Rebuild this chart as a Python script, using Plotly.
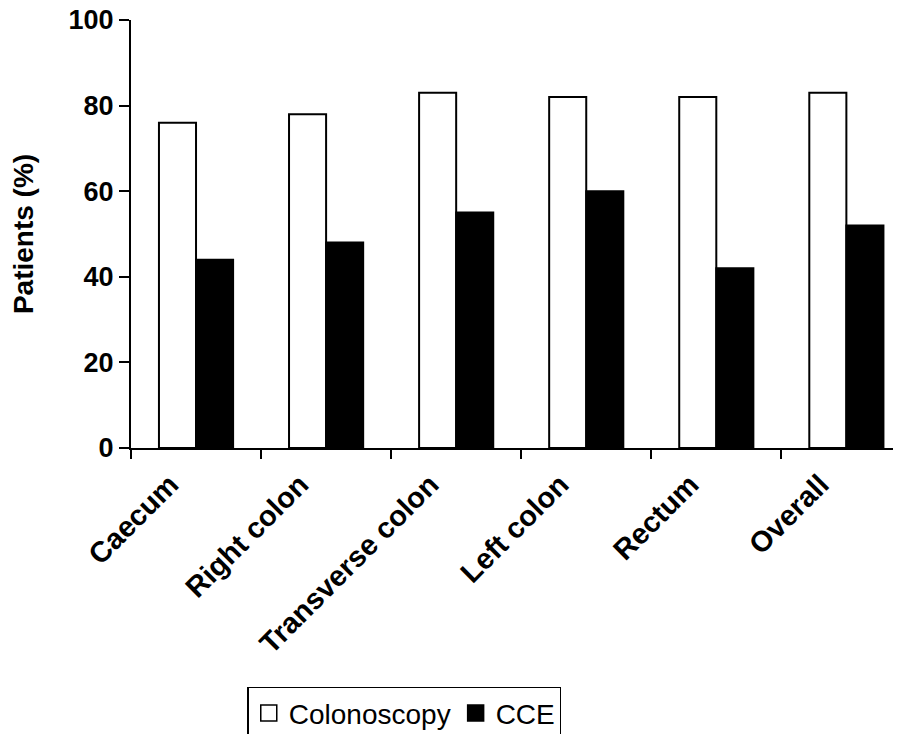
import plotly.graph_objects as go

categories = ["Caecum", "Right colon", "Transverse colon", "Left colon", "Rectum", "Overall"]
colonoscopy = [76, 78, 83, 82, 82, 83]
cce = [44, 48, 55, 60, 42, 52]
y_ticks = [0, 20, 40, 60, 80, 100]

FONT = "Liberation Sans, Arial, Helvetica, sans-serif"

fig = go.Figure()
fig.add_trace(go.Bar(
    x=categories, y=colonoscopy, name="Colonoscopy", showlegend=False,
    marker=dict(color="white", line=dict(color="black", width=2)),
))
fig.add_trace(go.Bar(
    x=categories, y=cce, name="CCE", showlegend=False,
    marker=dict(color="black", line=dict(color="black", width=2)),
))
# legend-only entries (larger square symbols)
fig.add_trace(go.Scatter(
    x=[None], y=[None], mode="markers", name="Colonoscopy",
    marker=dict(symbol="square", size=16, color="white", line=dict(color="black", width=1.5)),
))
fig.add_trace(go.Scatter(
    x=[None], y=[None], mode="markers", name="CCE",
    marker=dict(symbol="square", size=16, color="black", line=dict(color="black", width=1.5)),
))

fig.update_layout(
    width=901, height=734,
    paper_bgcolor="white", plot_bgcolor="white",
    barmode="group", bargap=0.43, bargroupgap=0,
    margin=dict(l=123, r=8, t=12, b=294, autoexpand=False),
    font=dict(family=FONT, color="black"),
    showlegend=True,
    legend=dict(
        orientation="h", x=0.151, xanchor="left", y=-0.558, yanchor="top",
        font=dict(size=28, family=FONT, color="black"),
        bordercolor="black", borderwidth=1.5, bgcolor="white",
        itemsizing="trace", traceorder="normal",
    ),
)

fig.update_xaxes(
    type="category", range=[-0.5, 5.42],
    showline=True, linecolor="black", linewidth=2,
    ticks="outside", ticklen=9, tickwidth=2, tickcolor="black",
    tickson="boundaries", tickangle=-45,
    ticklabelshift=-26, ticklabelstandoff=6,
    tickfont=dict(size=29, family=FONT, color="black", weight="bold"),
    showgrid=False, zeroline=False,
)
fig.update_yaxes(
    range=[0, 100], tickvals=y_ticks,
    showline=True, linecolor="black", linewidth=2,
    ticks="outside", ticklen=10, tickwidth=2, tickcolor="black",
    ticklabeloverflow="allow",
    tickfont=dict(size=27, family=FONT, color="black", weight="bold"),
    showgrid=False, zeroline=False,
    title=dict(text="Patients (%)", standoff=31,
               font=dict(size=28, family=FONT, color="black", weight="bold")),
)

fig.write_html("out.html")
